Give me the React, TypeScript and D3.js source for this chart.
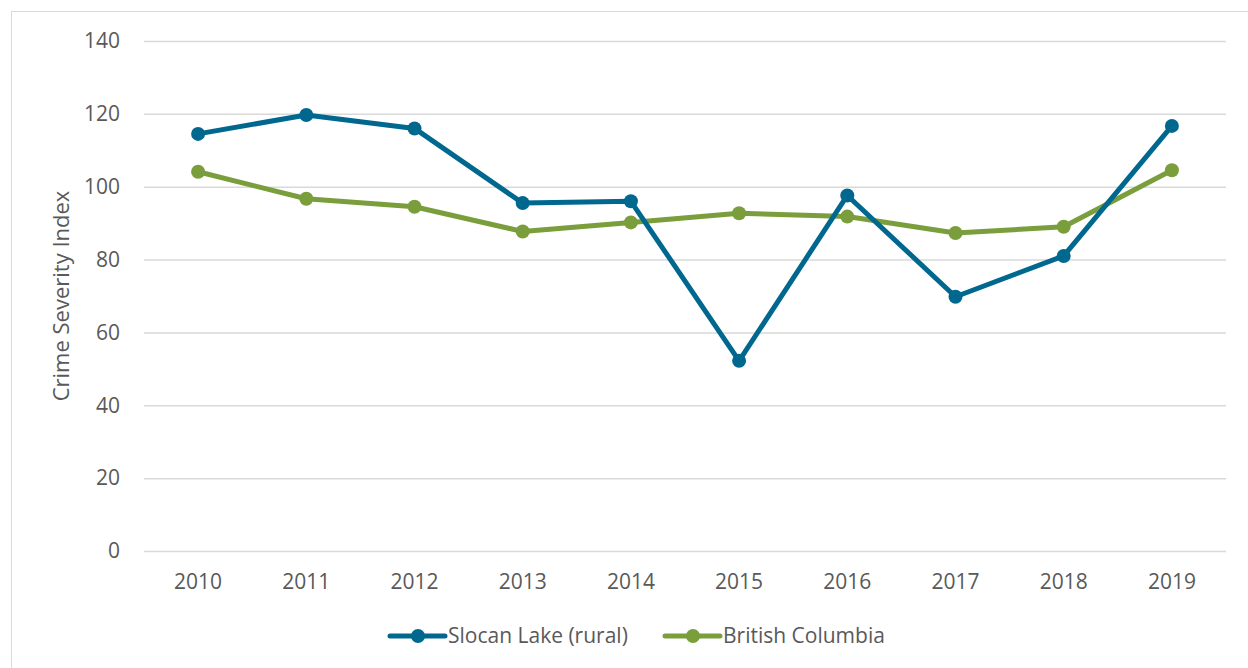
import React, { useEffect, useRef } from 'react';
import * as d3 from 'd3';

const years = ['2010', '2011', '2012', '2013', '2014', '2015', '2016', '2017', '2018', '2019'];
const slocan = [114.5, 119.7, 116.0, 95.5, 96.0, 52.2, 97.6, 69.8, 81.0, 116.7];
const bc = [104.1, 96.7, 94.5, 87.7, 90.2, 92.7, 91.8, 87.3, 89.0, 104.5];
const yTicks = [0, 20, 40, 60, 80, 100, 120, 140];

const seriesList = [
  { name: 'Slocan Lake (rural)', values: slocan, color: '#00688f' },
  { name: 'British Columbia', values: bc, color: '#7a9e3c' },
];

const FONT = "'Open Sans', sans-serif";
const TEXT = '#595959';

export default function App() {
  const svgRef = useRef<SVGSVGElement>(null);

  useEffect(() => {
    if (!svgRef.current) return;
    const svg = d3.select(svgRef.current);
    svg.selectAll('*').remove();

    const left = 144, right = 1226, top = 41, bottom = 551;

    // chart frame
    svg.append('rect')
      .attr('x', 11.5).attr('y', 11.5)
      .attr('width', 1260).attr('height', 700)
      .attr('fill', '#fff').attr('stroke', '#d9d9d9').attr('stroke-width', 1);

    const x = d3.scaleBand().domain(years).range([left, right]);
    const y = d3.scaleLinear().domain([0, 140]).range([bottom, top]);

    // grid
    svg.append('g').selectAll('line').data(yTicks).enter().append('line')
      .attr('x1', left).attr('x2', right)
      .attr('y1', d => y(d) + 0.5).attr('y2', d => y(d) + 0.5)
      .attr('stroke', '#d9d9d9').attr('stroke-width', 1.5);

    // y tick labels
    svg.append('g').selectAll('text').data(yTicks).enter().append('text')
      .attr('x', 120).attr('y', d => y(d))
      .attr('dy', '0.35em').attr('text-anchor', 'end')
      .attr('font-family', FONT).attr('font-size', 21).attr('fill', TEXT)
      .text(d => d);

    // x tick labels
    svg.append('g').selectAll('text').data(years).enter().append('text')
      .attr('x', d => (x(d) as number) + x.bandwidth() / 2).attr('y', 582)
      .attr('dy', '0.35em').attr('text-anchor', 'middle')
      .attr('font-family', FONT).attr('font-size', 21).attr('fill', TEXT)
      .text(d => d);

    // y axis title
    svg.append('text')
      .attr('transform', `translate(61,${(top + bottom) / 2}) rotate(-90)`)
      .attr('dy', '0.35em').attr('text-anchor', 'middle')
      .attr('font-family', FONT).attr('font-size', 22).attr('fill', TEXT)
      .text('Crime Severity Index');

    const line = d3.line<number>()
      .x((_, i) => (x(years[i]) as number) + x.bandwidth() / 2)
      .y(d => y(d));

    seriesList.slice().reverse().forEach(s => {
      const g = svg.append('g');
      g.append('path').attr('d', line(s.values))
        .attr('fill', 'none').attr('stroke', s.color)
        .attr('stroke-width', 5).attr('stroke-linejoin', 'round').attr('stroke-linecap', 'round');
      g.selectAll('circle').data(s.values).enter().append('circle')
        .attr('cx', (_, i) => (x(years[i]) as number) + x.bandwidth() / 2)
        .attr('cy', d => y(d)).attr('r', 7).attr('fill', s.color);
    });

    // legend
    const legendX = [390, 665];
    seriesList.forEach((s, i) => {
      const g = svg.append('g').attr('transform', `translate(${legendX[i]},636)`);
      g.append('line').attr('x1', 0).attr('x2', 55).attr('y1', 0).attr('y2', 0)
        .attr('stroke', s.color).attr('stroke-width', 5).attr('stroke-linecap', 'round');
      g.append('circle').attr('cx', 28).attr('cy', 0).attr('r', 7).attr('fill', s.color);
      g.append('text').attr('x', 58).attr('y', 0).attr('dy', '0.35em')
        .attr('font-family', FONT).attr('font-size', 21).attr('fill', TEXT)
        .text(s.name);
    });
  }, []);

  return (
    <svg ref={svgRef} width={1248} height={668}
      style={{ position: 'absolute', left: 0, top: 0, background: '#fff' }} />
  );
}
